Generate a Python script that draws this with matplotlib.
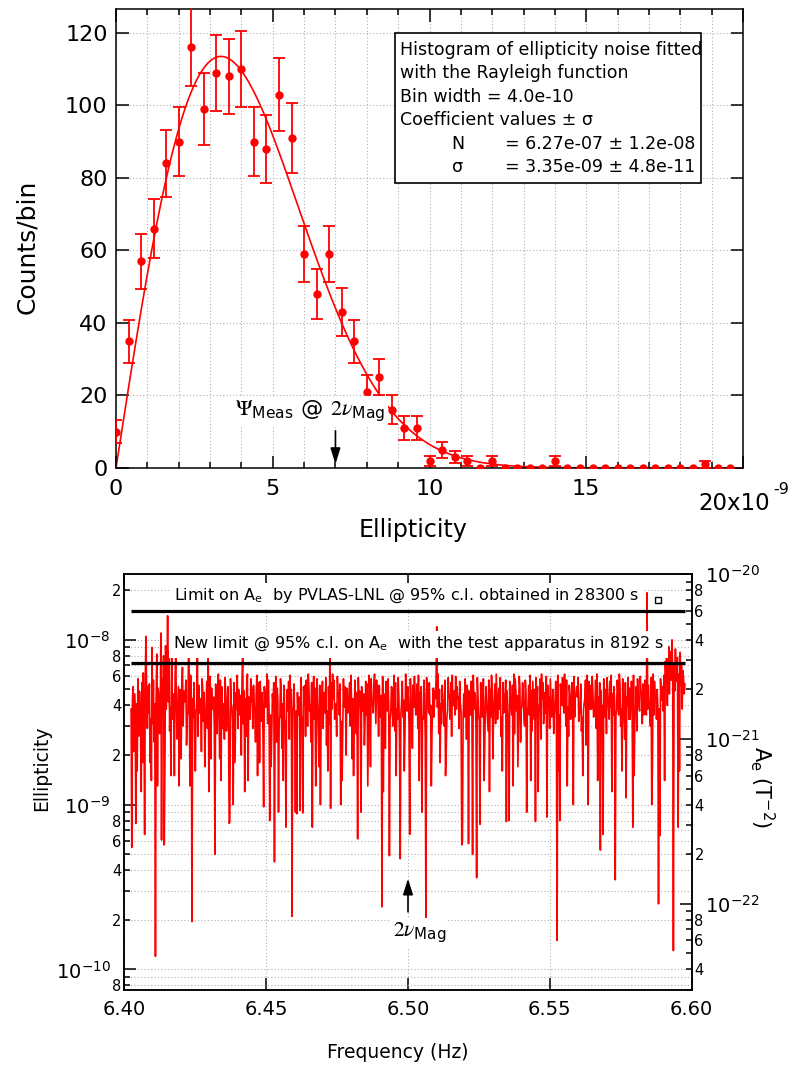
import numpy as np
import matplotlib
matplotlib.use("Agg")
import matplotlib.pyplot as plt
from matplotlib.patches import Rectangle
from matplotlib.ticker import (MultipleLocator, FixedLocator, FuncFormatter,
                               LogLocator, LogFormatterSciNotation)

plt.rcParams['font.family'] = ['DejaVu Sans']
plt.rcParams['mathtext.fontset'] = 'dejavusans'

W, H = 788, 1068

# ---------------- histogram panel data ----------------
bin_width = 0.4  # in units of 1e-9
counts = [10, 35, 57, 66, 84, 90, 116, 99, 109, 108,
          110, 90, 88, 103, 91, 59, 48, 59, 43, 35,
          21, 25, 16, 11, 11, 2, 5, 3, 2, 0,
          2, 0, 0, 0, 0, 2, 0, 0, 0, 0,
          0, 0, 0, 0, 0, 0, 0, 1, 0, 0]
fit_N = 6.27e-07
fit_sigma = 3.35e-09
meas_ellipticity = 7.0  # 1e-9 units, arrow position

legend_lines = ["Histogram of ellipticity noise fitted",
                "with the Rayleigh function",
                "Bin width = 4.0e-10",
                "Coefficient values \u00b1 \u03c3"]
coef_names = ["N", "\u03c3"]
coef_values = ["= 6.27e-07 \u00b1 1.2e-08", "= 3.35e-09 \u00b1 4.8e-11"]

# ---------------- spectrum panel data ----------------
# ellipticity spectrum, units of 1e-10
SPECTRUM = """
38 5.5 44 52 21 47 37 7.7 41 16 58 26 49 48 30 12 55 18 63 35
6.6 62 105 48 29 52 36 54 18 33 14 90 31 57 24 41 1.2 45 82 13
51 46 27 31 110 6.1 58 35 80 5.7 17 92 38 61 140 42 86 28 39 15
105 33 42 47 15 59 84 40 25 36 52 13 50 44 19 56 68 30 49 47
42 57 23 34 37 88 50 13 61 45 1.95 44 34 55 28 16 37 39 81 26
53 36 38 44 21 58 49 32 48 17 31 40 56 29 86 12 34 60 19 51
40 38 45 30 5 54 46 27 43 62 35 19 57 14 52 33 29 41 25 59
44 28 35 52 36 7.7 7.9 58 41 39 32 10 55 18 23 48 38 61 29 50
35 37 46 20 57 83 31 49 12 44 26 54 62 14 45 34 33 58 42 51
29 53 40 36 24 47 61 15 55 43 18 56 33 32 48 27 9.7 52 45 39
45 62 31 57 38 8 35 17 27 47 41 55 4.5 36 60 24 51 44 9 33
34 58 47 22 41 14 53 30 32 7.3 46 50 37 56 25 61 42 50 2.1 38
39 54 28 9 37 8.8 48 35 45 44 9.2 59 32 34 8.9 52 41 53 26 57
46 30 62 51 37 40 24 55 7.3 43 60 33 51 13 21 58 40 33 17 53
10 35 42 56 29 46 48 36 59 23 37 16 52 31 80 9.5 55 38 62 44
57 33 39 41 26 60 49 47 35 54 10 32 14 28 58 39 52 43 20 51
37 36 45 55 30 61 42 19 44 15 34 57 33 27 48 6.2 59 40 49 32
9 52 37 38 47 23 33 56 35 54 13 29 61 50 17 58 41 42 36 54
62 43 31 57 48 45 26 53 39 34 46 2.4 60 12 47 44 22 56 49 37
58 40 4.9 33 36 52 50 30 47 61 28 55 15 38 33 59 45 24 4.7 36
41 56 34 43 16 27 62 51 37 52 45 31 6.6 58 43 35 22 53 39 60
47 35 38 54 29 61 14 48 38 52 9 34 33 57 46 25 2.0 59 42 44
36 55 35 40 13 28 39 51 34 49 44 58 120 39 62 27 50 18 41 31
53 42 37 30 57 15 21 34 37 59 45 46 33 55 26 61 40 40 49 35
60 38 52 44 45 29 56 41 36 5.7 5.9 33 47 34 58 47 25 53 43 5.8
49 38 35 56 42 5.0 61 38 48 46 30 3.6 59 44 35 32 7.6 55 41 34
37 58 14 23 42 52 40 33 28 57 12 50 34 61 50 19 36 43 54 31
62 45 33 44 51 38 59 26 34 16 55 36 47 42 57 7.9 49 37 30 8
56 41 39 35 53 13 62 27 58 49 37 46 17 32 60 52 24 38 40 55
43 34 30 57 48 9 37 39 53 35 61 14 49 28 56 42 33 50 7.9 59
34 52 12 40 37 58 25 62 44 55 31 37 48 36 60 8.4 53 41 45 29
58 45 34 38 50 27 36 42 56 33 1.5 61 16 35 8 54 44 40 59 44
36 62 49 30 57 13 39 26 53 46 33 38 55 41 10 60 34 46 47 52
45 59 32 36 40 54 28 34 15 37 41 44 57 23 61 50 10 56 39 38
53 38 60 47 34 36 42 57 29 62 14 45 36 55 5.3 49 33 40 6.6 58
41 34 50 27 59 45 40 33 56 39 61 12 47 35 52 44 3.5 35 38 57
48 35 62 54 30 38 16 58 37 34 25 55 11 45 40 59 33 51 33 42
56 39 7.3 61 15 34 36 52 28 58 44 40 37 60 49 47 31 54 35 43
57 45 35 193 38 53 41 37 30 59 10 17 62 35 56 46 44 33 50 39
2.5 38 6.5 58 43 44 52 37 61 14 74 55 82 40 63 91 47 68 85 57
100 60 1.3 72 49 88 56 66 78 7.3 62 16 84 53 70 38 65 59 47 54
"""
spec_fmin, spec_fmax = 6.4024, 6.5976
limit_pvlas = 1.5e-8
limit_new = 7.25e-9
pvlas_point_f, pvlas_point_y = [6.5882], [1.75e-8]
mag_freq = 6.50
ae_per_ellipticity = 4e-13
freq_ticks = [6.40, 6.45, 6.50, 6.55, 6.60]

fig = plt.figure(figsize=(W / 100, H / 100), dpi=100)

# ===================== top panel =====================
ax1 = fig.add_axes([116 / W, 1 - 468 / H, 627 / W, 459 / H])
x_bins = np.arange(len(counts)) * bin_width
cnt = np.array(counts, dtype=float)
err = np.sqrt(cnt)
nz = cnt > 0

xf = np.linspace(0, 20e-9, 500)
yf = fit_N * xf / fit_sigma**2 * np.exp(-xf**2 / (2 * fit_sigma**2))
ax1.plot(xf * 1e9, yf, color='red', lw=1.2, zorder=2)
ax1.errorbar(x_bins[nz], cnt[nz], yerr=err[nz], fmt='none', ecolor='red',
             elinewidth=1.3, capsize=4.5, capthick=1.3, zorder=3)
ax1.plot(x_bins, cnt, 'o', color='red', ms=5, zorder=3)

ax1.set_xlim(0, 20)
ax1.set_ylim(0, 126.6)
ax1.xaxis.set_major_locator(MultipleLocator(5))
ax1.xaxis.set_minor_locator(MultipleLocator(1))
ax1.yaxis.set_major_locator(MultipleLocator(20))
ax1.xaxis.set_major_formatter(FuncFormatter(lambda v, p: '' if v > 19 else '%d' % v))
ax1.tick_params(which='both', direction='in', top=True, right=True, width=1.1)
ax1.tick_params(which='major', length=9, labelsize=16)
ax1.tick_params(which='minor', length=4)
ax1.tick_params(axis='x', pad=8)
ax1.tick_params(axis='y', pad=6)
gstyle = dict(color='#b0b0b0', linestyle=(0, (1, 2)), linewidth=0.8)
ax1.xaxis.grid(True, which='both', **gstyle)
ax1.yaxis.grid(True, which='major', **gstyle)
for s in ax1.spines.values():
    s.set_linewidth(1.1)

fig.text(698 / W, 1 - 510 / H, '20x10', fontsize=16.5, va='baseline')
fig.text(773 / W, 1 - 494 / H, '-9', fontsize=11.5, va='baseline')

# fit results box
ax1.add_patch(Rectangle((0.445, 0.6203), 0.4875, 0.3268, transform=ax1.transAxes,
                        facecolor='white', edgecolor='black', lw=1.2, zorder=4))
ys = [0.8998, 0.8486, 0.7974, 0.7462, 0.6950, 0.6438]
for txt, yy in zip(legend_lines, ys[:4]):
    ax1.text(0.4523, yy, txt, transform=ax1.transAxes, fontsize=12.5,
             va='baseline', zorder=5)
for name, val, yy in zip(coef_names, coef_values, ys[4:]):
    ax1.text(0.5354, yy, name, transform=ax1.transAxes, fontsize=12.5,
             va='baseline', zorder=5)
    ax1.text(0.6204, yy, val, transform=ax1.transAxes, fontsize=12.5,
             va='baseline', zorder=5)

ax1.text(3.8, 14.3, r'$\Psi_{\mathregular{Meas}}$ @ $2\nu_{\mathregular{Mag}}$',
         math_fontfamily='stix', fontsize=16, va='baseline', zorder=5,
         bbox=dict(facecolor='white', edgecolor='none', pad=2))
ax1.annotate('', xy=(meas_ellipticity, 0.3), xytext=(meas_ellipticity, 11),
             arrowprops=dict(arrowstyle='-|>,head_length=0.8,head_width=0.25',
                             color='black', lw=1.2, mutation_scale=12), zorder=6)

fig.text(27 / W, 1 - 247 / H, 'Counts/bin', rotation=90, fontsize=18,
         ha='center', va='center')
fig.text(413 / W, 1 - 530 / H, 'Ellipticity', fontsize=17, ha='center', va='center')

# ===================== bottom panel =====================
ax2 = fig.add_axes([124.3 / W, 1 - 990 / H, 567.4 / W, 415.7 / H])
spec = np.array(SPECTRUM.split(), dtype=float) * 1e-10
freq = np.linspace(spec_fmin, spec_fmax, len(spec))
ax2.plot(freq, spec, color='red', lw=1.2, zorder=2)
ax2.hlines([limit_pvlas, limit_new], freq[0], freq[-1], colors='black',
           lw=2.3, zorder=6)
ax2.plot(pvlas_point_f, pvlas_point_y, ls='none', marker='s', mfc='none',
         mec='black', ms=5, mew=1.0, zorder=7)

ax2.set_yscale('log')
ax2.set_ylim(7.5e-11, 2.5e-8)
ax2.set_xlim(freq_ticks[0], freq_ticks[-1])
ax2.xaxis.set_major_locator(FixedLocator(freq_ticks))
ax2.xaxis.set_major_formatter(FuncFormatter(lambda v, p: '%.2f' % v))


def minor_label(v, pos):
    m = v / 10 ** np.floor(np.log10(v) + 1e-9)
    k = int(round(m))
    return str(k) if k in (2, 4, 6, 8) else ''


ax2.yaxis.set_major_locator(LogLocator(base=10))
ax2.yaxis.set_minor_locator(LogLocator(base=10, subs=range(2, 10)))
ax2.yaxis.set_major_formatter(LogFormatterSciNotation())
ax2.yaxis.set_minor_formatter(FuncFormatter(minor_label))

ax2.tick_params(which='both', direction='in', top=True, width=1.1)
ax2.tick_params(axis='x', which='major', length=8.5, labelsize=14, pad=7)
ax2.tick_params(axis='y', which='major', length=8.5, labelsize=14, pad=10)
ax2.tick_params(axis='y', which='minor', length=4.5, labelsize=10.5, pad=2)
ax2.yaxis.grid(True, which='both', **gstyle)
ax2.xaxis.grid(True, which='major', **gstyle)

ax3 = ax2.twinx()
ax3.set_yscale('log')
lo, hi = ax2.get_ylim()
ax3.set_ylim(lo * ae_per_ellipticity, hi * ae_per_ellipticity)
ax3.yaxis.set_major_locator(LogLocator(base=10))
ax3.yaxis.set_minor_locator(LogLocator(base=10, subs=range(2, 10)))
ax3.yaxis.set_major_formatter(LogFormatterSciNotation())
ax3.yaxis.set_minor_formatter(FuncFormatter(minor_label))
ax3.tick_params(axis='x', labelbottom=False, labeltop=False)
ax3.tick_params(which='both', direction='in', width=1.1)
ax3.tick_params(which='major', length=8.5, labelsize=14, pad=9.5)
ax3.tick_params(which='minor', length=4.5, labelsize=10.5, pad=2)
for a in (ax2, ax3):
    for s in a.spines.values():
        s.set_linewidth(1.1)

ax2.text(0.0876, 0.938, r'Limit on A$_\mathrm{e}$  by PVLAS-LNL @ 95% c.l. obtained in 28300 s',
         transform=ax2.transAxes, fontsize=11.5, va='baseline', zorder=5,
         bbox=dict(facecolor='white', edgecolor='none', pad=3))
ax2.text(0.0857, 0.822, r'New limit @ 95% c.l. on A$_\mathrm{e}$  with the test apparatus in 8192 s',
         transform=ax2.transAxes, fontsize=11.5, va='baseline', zorder=5,
         bbox=dict(facecolor='white', edgecolor='none', pad=3))
ax2.text(0.4736, 0.128, r'$2\nu_{\mathregular{Mag}}$', transform=ax2.transAxes,
         math_fontfamily='stix', fontsize=15.5, va='baseline', zorder=5,
         bbox=dict(facecolor='white', edgecolor='none', pad=1.5))
ax2.annotate('', xy=(mag_freq, 3.7e-10), xytext=(mag_freq, 2.15e-10),
             arrowprops=dict(arrowstyle='-|>,head_length=0.8,head_width=0.25',
                             color='black', lw=1.2, mutation_scale=12), zorder=6)

fig.text(42 / W, 1 - 768 / H, 'Ellipticity', rotation=90, fontsize=13.5,
         ha='center', va='center')
fig.text(398 / W, 1 - 1053 / H, 'Frequency (Hz)', fontsize=13.5,
         ha='center', va='center')
fig.text(762 / W, 1 - 787 / H, r'A$_\mathrm{e}$ (T$^{-2}$)', rotation=270,
         fontsize=15, ha='center', va='center')

fig.savefig('out.png', dpi=100)
